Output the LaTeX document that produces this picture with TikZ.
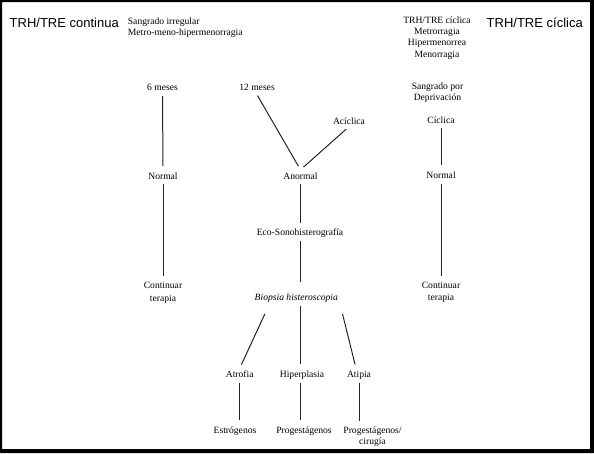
\documentclass[tikz,border=0pt]{standalone}
\usepackage{fontspec}
\setmainfont{Liberation Serif}
\newfontfamily\titlefont{Liberation Sans}
\usetikzlibrary{calc}
\definecolor{linkgray}{RGB}{35,35,35}

\begin{document}
\begin{tikzpicture}[x=1pt,y=-1pt]

\tikzset{
  cell/.style={
    font=\fontsize{9.6}{11.5}\selectfont,
    inner sep=2pt,
    text height=7pt,
    text depth=2pt
  },
  stack/.style={
    font=\fontsize{9.6}{11.5}\selectfont,
    inner sep=2pt,
    align=center,
    anchor=north
  },
  schemetitle/.style={
    font=\titlefont\fontsize{13}{15}\selectfont,
    inner sep=0pt,
    text height=9.4pt,
    text depth=0pt,
    anchor=west
  },
  link/.style={
    draw=linkgray,
    line width=1pt,
    shorten <=1pt,
    shorten >=4pt
  }
}

% Page and black outer frame.
\useasboundingbox (0,0) rectangle (594,453);
\fill[black, even odd rule] (0,0) rectangle (594,453) (2,2) rectangle (590,449);

% Scheme titles.
\node[schemetitle] (contTitle) at (9.5,22.6) {TRH/TRE continua};
\node[schemetitle] (cyclTitle) at (486.5,22.6) {TRH/TRE cíclica};

% Headers.
\node[stack, anchor=north west, align=left] (contHead) at (125.7,15.4)
  {Sangrado irregular\\Metro-meno-hipermenorragia};
\node[stack, font=\fontsize{9.6}{11.3}\selectfont] (cyclHead) at (437,14.4)
  {TRH/TRE cíclica\\Metrorragia\\Hipermenorrea\\Menorragia};

% Left column: continua, 6 months.
\node[cell] (sixM) at (162.5,88.3) {6 meses};
\node[cell] (normL) at (163,176.5) {Normal};
\node[stack, font=\fontsize{9.6}{12.6}\selectfont] (contL) at (163,280.4)
  {Continuar\\terapia};

% Middle column: 12 months or acyclic bleeding.
\node[cell] (twelveM) at (257,88) {12 meses};
\node[cell] (acycl) at (349,121.7) {Acíclica};
\node[cell] (abnorm) at (300.5,176.5) {Anormal};
\node[cell] (echo) at (300,233.3) {Eco-Sonohisterografía};
\node[cell, font=\fontsize{9.6}{11.5}\selectfont\itshape] (biop) at (296.3,298.3)
  {Biopsia histeroscopia};
\node[cell] (atroph) at (239.7,375) {Atrofia};
\node[cell] (hyperp) at (302,375) {Hiperplasia};
\node[cell] (atyp) at (359,375) {Atipia};
\node[cell] (estro) at (235,431) {Estrógenos};
\node[cell] (progA) at (304,431) {Progestágenos};
\node[stack, font=\fontsize{9.6}{10.5}\selectfont] (progB) at (372.5,424.7)
  {Progestágenos/\\cirugía};

% Right column: cyclic bleeding.
\node[stack, font=\fontsize{9.6}{11}\selectfont] (withdr) at (437.5,81)
  {Sangrado por\\Deprivación};
\node[cell] (cycl) at (441,120.7) {Cíclica};
\node[cell] (normR) at (441,176) {Normal};
\node[stack, font=\fontsize{9.6}{12.6}\selectfont] (contR) at (441,279.7)
  {Continuar\\terapia};

% Connectors, left column.
\draw[link] (sixM) -- (normL);
\draw[link] (normL) -- (contL);

% Connectors, middle column.
\draw[link] (twelveM.south) -- (abnorm.north);
\draw[link] ([xshift=-2pt]acycl.south) -- (abnorm.north);
\draw[link] (abnorm) -- (abnorm |- echo.north);
\draw[link, shorten >=10pt] (echo) -- (echo |- biop.north);
\draw[link] ([shift={(-31,8)}]biop.south) -- (atroph.north);
\draw[link] (echo.south |- biop.south) -- (echo.south |- hyperp.north);
\draw[link] ([shift={(46,8)}]biop.south) -- ([xshift=-3pt]atyp.north);
\draw[link] (atroph) -- (atroph |- estro.north);
\draw[link] (echo.south |- hyperp.south) -- (echo.south |- progA.north);
\draw[link] (atyp) -- (atyp |- progB.north);

% Connectors, right column.
\draw[link] (cycl) -- (normR);
\draw[link] (normR) -- (contR);

\end{tikzpicture}
\end{document}
